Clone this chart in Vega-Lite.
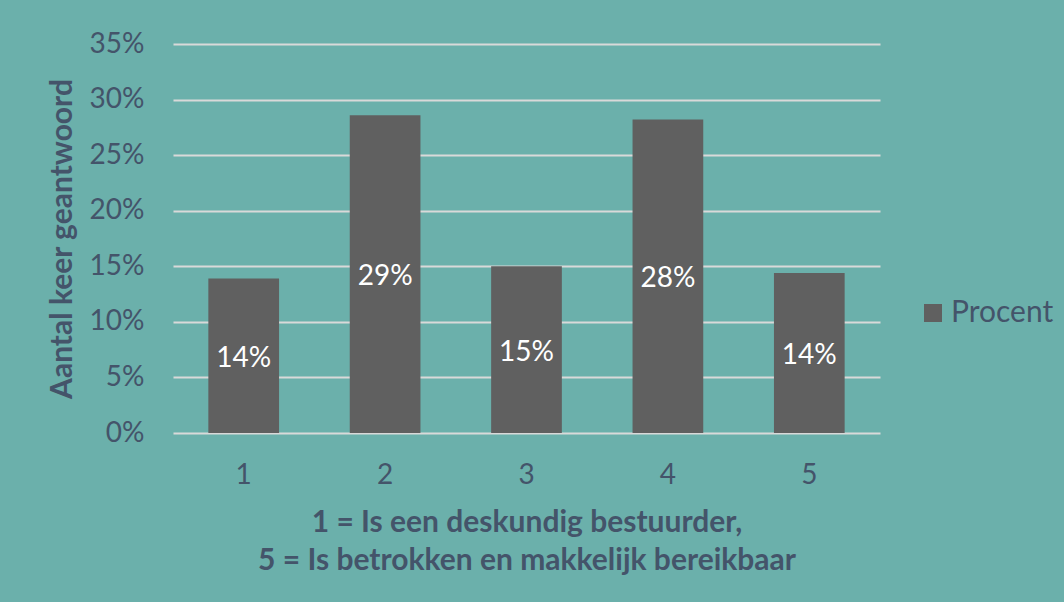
{
  "$schema": "https://vega.github.io/schema/vega-lite/v6.json",
  "width": 707,
  "height": 389,
  "autosize": {"type": "none"},
  "padding": {"left": 173, "top": 44, "right": 184, "bottom": 169},
  "background": "#6BB0AB",
  "config": {
    "view": {"stroke": null},
    "font": "Lato"
  },
  "data": {
    "values": [
      {"score": "1", "value": 0.139, "series": "Procent"},
      {"score": "2", "value": 0.286, "series": "Procent"},
      {"score": "3", "value": 0.150, "series": "Procent"},
      {"score": "4", "value": 0.282, "series": "Procent"},
      {"score": "5", "value": 0.144, "series": "Procent"}
    ]
  },
  "encoding": {
    "x": {
      "field": "score",
      "type": "nominal",
      "scale": {"paddingInner": 0.5, "paddingOuter": 0.25},
      "axis": {
        "labelAngle": 0,
        "labelFontSize": 28,
        "labelColor": "#44546A",
        "labelPadding": 28,
        "ticks": false,
        "domain": false,
        "title": ["1 = Is een deskundig bestuurder,", "5 = Is betrokken en makkelijk bereikbaar"],
        "titleFontSize": 30,
        "titleFontWeight": "bold",
        "titleColor": "#44546A",
        "titleLineHeight": 38,
        "titlePadding": 18
      }
    }
  },
  "resolve": {"scale": {"y": "independent"}},
  "layer": [
    {
      "mark": {"type": "bar", "color": "#606060"},
      "encoding": {
        "y": {
          "field": "value",
          "type": "quantitative",
          "scale": {"domain": [0, 0.35]},
          "axis": {
            "values": [0, 0.05, 0.1, 0.15, 0.2, 0.25, 0.3, 0.35],
            "format": ".0%",
            "labelFontSize": 28,
            "labelColor": "#44546A",
            "labelPadding": 29,
            "ticks": false,
            "domain": false,
            "grid": true,
            "gridColor": "#D9D9D9",
            "gridWidth": 2,
            "title": "Aantal keer geantwoord",
            "titleFontSize": 30,
            "titleFontWeight": "bold",
            "titleColor": "#44546A",
            "titlePadding": 12
          }
        },
        "color": {
          "field": "series",
          "type": "nominal",
          "scale": {"range": ["#606060"]},
          "legend": {
            "title": null,
            "orient": "none",
            "legendX": 745,
            "legendY": 254,
            "symbolType": "square",
            "symbolSize": 324,
            "symbolStrokeWidth": 0,
            "symbolOpacity": 1,
            "labelFontSize": 30,
            "labelColor": "#44546A",
            "labelOffset": 3
          }
        }
      }
    },
    {
      "mark": {"type": "text", "color": "white", "fontSize": 28, "baseline": "middle", "dy": 3},
      "encoding": {
        "y": {
          "field": "value",
          "type": "quantitative",
          "scale": {"domain": [0, 0.7]},
          "axis": null
        },
        "text": {"field": "value", "type": "quantitative", "format": ".0%"}
      }
    }
  ]
}
